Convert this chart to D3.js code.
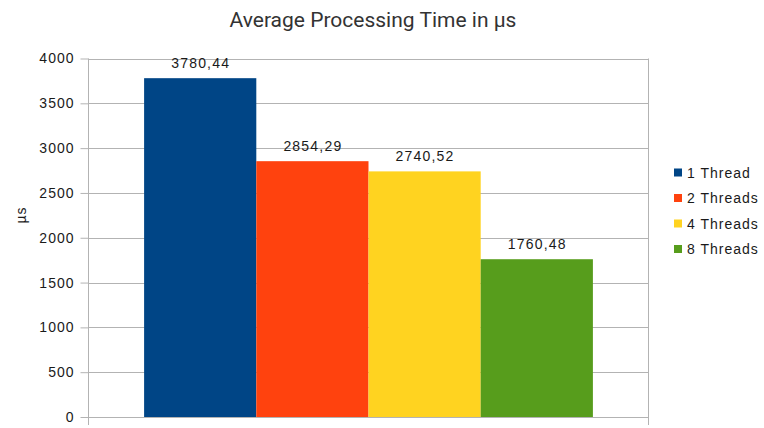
<!DOCTYPE html>
<html>
<head>
<meta charset="utf-8">
<script src="https://cdn.jsdelivr.net/npm/d3@7"></script>
<style>
  html, body { margin: 0; padding: 0; background: #fff; }
  svg { display: block; }
</style>
</head>
<body>
<svg id="chart" width="764" height="428"></svg>
<script>
// Chart data
const categories = ["Average"];
const seriesNames = ["1 Thread", "2 Threads", "4 Threads", "8 Threads"];
const seriesValues = [3780.44, 2854.29, 2740.52, 1760.48];
const seriesColors = ["#004586", "#ff420e", "#ffd320", "#579d1c"];
const yTicks = [0, 500, 1000, 1500, 2000, 2500, 3000, 3500, 4000];
const titleText = "Average Processing Time in µs";
const yAxisTitle = "µs";

const svg = d3.select("#chart");
const plot = { left: 88, right: 649, top: 58.5, bottom: 417 };
const gridColor = "#b3b3b3";
const labelFont = "'Liberation Sans', Arial, sans-serif";
const textColor = "#1a1a1a";

const y = d3.scaleLinear().domain([0, 4000]).range([plot.bottom, plot.top]);
const x0 = d3.scaleBand().domain(categories).range([plot.left, plot.right])
  .paddingInner(0.2).paddingOuter(0.1);
const x1 = d3.scaleBand().domain(seriesNames).range([0, x0.bandwidth()]).padding(0);

const locale = d3.formatLocale({ decimal: ",", thousands: "", grouping: [3], currency: ["", ""] });
const fmt = locale.format(".2f");

// Title
svg.append("text")
  .attr("x", 373).attr("y", 27)
  .attr("text-anchor", "middle")
  .attr("font-family", "Roboto, 'Open Sans', sans-serif")
  .attr("font-size", 21)
  .attr("fill", "#333")
  .text(titleText);

// Horizontal gridlines
svg.append("g").selectAll("line").data(yTicks).join("line")
  .attr("x1", plot.left).attr("x2", plot.right)
  .attr("y1", d => Math.round(y(d)) + 0.5).attr("y2", d => Math.round(y(d)) + 0.5)
  .attr("stroke", gridColor).attr("stroke-width", 1);

// Bars
const group = svg.append("g").attr("transform", `translate(${x0(categories[0])},0)`);
group.selectAll("rect").data(seriesValues).join("rect")
  .attr("x", (d, i) => x1(seriesNames[i]))
  .attr("width", x1.bandwidth())
  .attr("y", d => y(d))
  .attr("height", d => y(0) - y(d))
  .attr("fill", (d, i) => seriesColors[i]);

// Value labels
group.selectAll("text").data(seriesValues).join("text")
  .attr("x", (d, i) => x1(seriesNames[i]) + x1.bandwidth() / 2 + 0.5)
  .attr("y", d => y(d) - 10)
  .attr("text-anchor", "middle")
  .attr("font-family", labelFont)
  .attr("font-size", 14)
  .attr("letter-spacing", 1.2)
  .attr("fill", textColor)
  .text(d => fmt(d));

// Y axis
const yAxis = d3.axisLeft(y).tickValues(yTicks).tickFormat(d3.format("d"))
  .tickSize(8).tickSizeOuter(0).tickPadding(6);
const yg = svg.append("g").attr("transform", `translate(${plot.left + 0.5},0)`).call(yAxis);
yg.select(".domain").attr("stroke", gridColor).attr("d", `M0,${plot.top}V${plot.bottom + 8}`);
yg.selectAll(".tick line").attr("stroke", gridColor);
yg.selectAll(".tick text")
  .attr("font-family", labelFont)
  .attr("font-size", 14).attr("letter-spacing", 1)
  .attr("fill", textColor);

// X axis (category boundaries)
const xg = svg.append("g");
xg.append("line")
  .attr("x1", plot.left).attr("x2", plot.right)
  .attr("y1", plot.bottom + 0.5).attr("y2", plot.bottom + 0.5)
  .attr("stroke", gridColor);
xg.append("line")
  .attr("x1", plot.right - 0.5).attr("x2", plot.right - 0.5)
  .attr("y1", plot.top).attr("y2", plot.bottom + 8)
  .attr("stroke", gridColor);

// Y axis title
svg.append("text")
  .attr("transform", "translate(26,215) rotate(-90)")
  .attr("text-anchor", "middle")
  .attr("font-family", labelFont)
  .attr("font-size", 14).attr("letter-spacing", 1)
  .attr("fill", textColor)
  .text(yAxisTitle);

// Legend
const legend = svg.append("g").attr("transform", "translate(674,172.5)");
const items = legend.selectAll("g").data(seriesNames).join("g")
  .attr("transform", (d, i) => `translate(0,${i * 25.5})`);
items.append("rect")
  .attr("x", 0).attr("y", -4).attr("width", 8).attr("height", 8)
  .attr("fill", (d, i) => seriesColors[i]);
items.append("text")
  .attr("x", 13).attr("y", 5)
  .attr("font-family", labelFont)
  .attr("font-size", 14).attr("letter-spacing", 1)
  .attr("fill", textColor)
  .text(d => d);
</script>
</body>
</html>
